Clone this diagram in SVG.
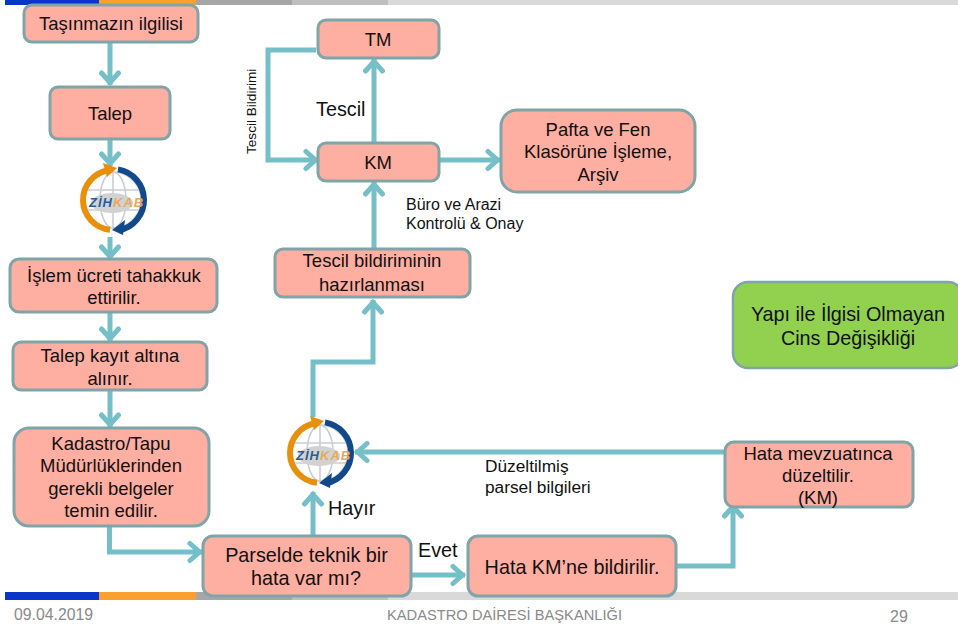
<svg xmlns="http://www.w3.org/2000/svg" xmlns:xlink="http://www.w3.org/1999/xlink" width="958" height="629" viewBox="0 0 958 629">
<style>
text{font-family:"Liberation Sans",Arial,sans-serif;fill:#111}
.n{fill:#ffaea2;stroke:#7fa5a8;stroke-width:3}
.c{fill:none;stroke:#74bfc8;stroke-width:5}
.t18{font-size:18.5px;text-anchor:middle}
.t20{font-size:19.8px;text-anchor:middle}
.l{font-size:19.8px}
.s{font-size:16px}
.f{fill:#8a8a8a}
</style>
<defs>
<marker id="a" markerUnits="userSpaceOnUse" markerWidth="24" markerHeight="24" refX="20" refY="12" orient="auto"><path d="M8 3.5L17.5 12L8 20.5" fill="none" stroke="#74bfc8" stroke-width="5" stroke-linecap="round" stroke-linejoin="miter"/></marker>
<g id="logo">
<circle cx="0" cy="0" r="33" fill="#fff"/>
<g fill="none" stroke="#c9ced6" stroke-width="1.6"><circle r="28"/><ellipse rx="13" ry="28"/><path d="M0-28V28M-27-10H27M-27 10H27"/></g>
<ellipse cx="-1" cy="3" rx="21" ry="10" fill="#d2d2d2"/>
<path d="M-3 29.85A30 30 0 0 1 -4 -29.73" fill="none" stroke="#e8900c" stroke-width="6"/>
<path d="M-10 -37L4 -32L-6 -23Z" fill="#e8900c"/>
<path d="M5 -30.6A31 31 0 0 1 6 30.41" fill="none" stroke="#12498a" stroke-width="6"/>
<path d="M-1 30L12 20L10 35Z" fill="#12498a"/>
<text x="-24" y="7" font-size="13" font-style="italic" font-weight="bold" style="fill:#2e5c92" letter-spacing="1">ZİH</text>
<text x="0" y="7" font-size="13" font-style="italic" font-weight="bold" style="fill:#e8a860" letter-spacing="1">KAB</text>
</g>
</defs>
<g id="bars">
<rect x="5" y="0" width="94" height="5" fill="#0a35c8"/><rect x="99" y="0" width="97" height="5" fill="#f9a030"/><rect x="196" y="0" width="96" height="5" fill="#a6a6a6"/><rect x="292" y="0" width="96" height="5" fill="#bfbfbf"/><rect x="388" y="0" width="570" height="5" fill="#d9d9d9"/>
<rect x="5" y="592" width="94" height="8" fill="#0a35c8"/><rect x="99" y="592" width="97" height="8" fill="#f9a030"/><rect x="196" y="592" width="96" height="8" fill="#a6a6a6"/><rect x="292" y="592" width="96" height="8" fill="#bfbfbf"/><rect x="388" y="592" width="570" height="8" fill="#d9d9d9"/>
</g>
<g id="connectors">
<path class="c" d="M110 42V85" marker-end="url(#a)"/>
<path class="c" d="M110 139V166" marker-end="url(#a)"/>
<path class="c" d="M110 237V259" marker-end="url(#a)"/>
<path class="c" d="M110 312V341" marker-end="url(#a)"/>
<path class="c" d="M110 390V427" marker-end="url(#a)"/>
<path class="c" d="M109.500 526V552H202" marker-end="url(#a)"/>
<path class="c" d="M313 536V492" marker-end="url(#a)"/>
<path class="c" d="M313 417V362H373V300" marker-end="url(#a)"/>
<path class="c" d="M374 249V182" marker-end="url(#a)"/>
<path class="c" d="M374 143V59" marker-end="url(#a)"/>
<path class="c" d="M316 50H268V160H318" marker-end="url(#a)"/>
<path class="c" d="M440 160H500" marker-end="url(#a)"/>
<path class="c" d="M411 575H465" marker-end="url(#a)"/>
<path class="c" d="M676 566H733V504" marker-end="url(#a)"/>
<path class="c" d="M726 452H355" marker-end="url(#a)"/>
</g>
<g id="n1"><rect class="n" x="24" y="5" width="174" height="37" rx="8"/><text class="t18" x="111" y="30">Taşınmazın ilgilisi</text></g>
<g id="n2"><rect class="n" x="50" y="87" width="120" height="52" rx="8"/><text class="t18" x="110" y="120">Talep</text></g>
<use id="logo1" xlink:href="#logo" href="#logo" x="113" y="200"/>
<g id="n3"><rect class="n" x="10" y="259" width="207" height="53" rx="9"/><text class="t18" x="114" y="282">İşlem ücreti tahakkuk</text><text class="t18" x="114" y="304">ettirilir.</text></g>
<g id="n4"><rect class="n" x="13" y="342" width="194" height="48" rx="8"/><text class="t18" x="110" y="362">Talep kayıt altına</text><text class="t18" x="110" y="385">alınır.</text></g>
<g id="n5"><rect class="n" x="14" y="428" width="195" height="98" rx="15"/><text class="t18" x="111" y="450">Kadastro/Tapu</text><text class="t18" x="111" y="472">Müdürlüklerinden</text><text class="t18" x="111" y="495">gerekli belgeler</text><text class="t18" x="111" y="517">temin edilir.</text></g>
<g id="n6"><rect class="n" x="203" y="536" width="208" height="60" rx="10"/><text class="t20" x="306.500" y="562">Parselde teknik bir</text><text class="t20" x="306" y="585">hata var mı?</text></g>
<g id="n7"><rect class="n" x="468" y="536" width="208" height="60" rx="10"/><text class="t20" x="572" y="574">Hata KM’ne bildirilir.</text></g>
<g id="n8"><rect class="n" x="725" y="442" width="188" height="65" rx="9"/><text class="t18" x="818" y="460">Hata mevzuatınca</text><text class="t18" x="818" y="482">düzeltilir.</text><text class="t18" x="818" y="504">(KM)</text></g>
<use id="logo2" xlink:href="#logo" href="#logo" x="320" y="453"/>
<g id="n9"><rect class="n" x="275" y="249" width="195" height="48" rx="8"/><text class="t18" x="372" y="267">Tescil bildiriminin</text><text class="t18" x="372" y="291">hazırlanması</text></g>
<g id="n10"><rect class="n" x="318" y="143" width="121" height="38" rx="8"/><text class="t18" x="378" y="169">KM</text></g>
<g id="n11"><rect class="n" x="318" y="20" width="121" height="38" rx="8"/><text class="t18" x="378" y="46">TM</text></g>
<g id="n12"><rect class="n" x="501" y="110" width="194" height="82" rx="16"/><text class="t18" x="598" y="136">Pafta ve Fen</text><text class="t18" x="598" y="158">Klasörüne İşleme,</text><text class="t18" x="598" y="181">Arşiv</text></g>
<g id="n13"><rect x="733" y="282" width="230" height="86" rx="15" fill="#92d050" stroke="#7fa5a8" stroke-width="2.500"/><text class="t20" x="848" y="321">Yapı ile İlgisi Olmayan</text><text class="t20" x="848" y="345">Cins Değişikliği</text></g>
<g id="labels">
<text x="256" y="154" font-size="13.600" transform="rotate(-90 256 154)">Tescil Bildirimi</text>
<text class="l" x="316" y="116">Tescil</text>
<text class="s" x="406" y="210">Büro ve Arazi</text>
<text class="s" x="406" y="229">Kontrolü &amp; Onay</text>
<text x="485" y="472" font-size="17.300">Düzeltilmiş</text>
<text x="485" y="493" font-size="17.300">parsel bilgileri</text>
<text class="l" x="328" y="515">Hayır</text>
<text class="l" x="418" y="557">Evet</text>
<text class="f" x="14" y="620" font-size="15.800">09.04.2019</text>
<text class="f" x="387" y="620" font-size="14.700">KADASTRO DAİRESİ BAŞKANLIĞI</text>
<text class="f" x="890" y="622" font-size="16">29</text>
</g>
</svg>
